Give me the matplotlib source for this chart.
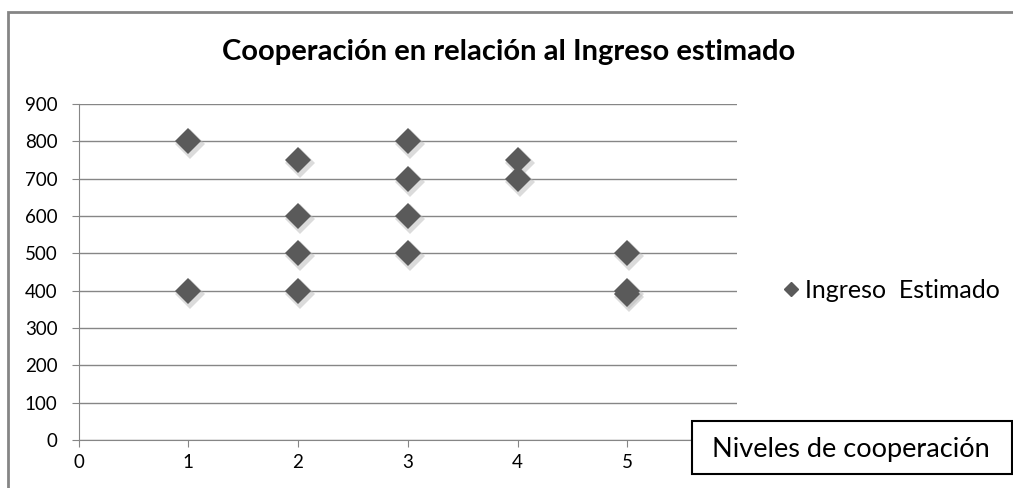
import matplotlib.pyplot as plt
from matplotlib.patches import Rectangle
from matplotlib.lines import Line2D
import matplotlib.transforms as mtransforms

plt.rcParams['font.family'] = ['Lato', 'DejaVu Sans']

# niveles de cooperación vs ingreso estimado
nivel = [1, 1, 2, 2, 2, 2, 3, 3, 3, 3, 4, 4, 5, 5, 5]
ingreso = [800, 400, 750, 600, 500, 400, 800, 700, 600, 500, 750, 700, 500, 400, 390]

y_ticks = list(range(0, 1000, 100))
x_ticks = list(range(0, 7))

fig = plt.figure(figsize=(10.13, 4.88), dpi=100)
W, H = 1013, 488

# outer chart frame (only left and top edges are visible)
fig.patches.append(Rectangle((8 / W, -0.1), 1.2, (488 - 12) / H + 0.1, transform=fig.transFigure,
                             fill=False, edgecolor='#858585', linewidth=2))

ax = fig.add_axes([78.5 / W, 1 - 440 / H, (737 - 78.5) / W, (440 - 104) / H])

# shadow under markers
shadow = mtransforms.offset_copy(ax.transData, fig=fig, x=2, y=-3, units='dots')
ax.plot(nivel, ingreso, 'D', color='#b8b8b8', alpha=0.5, markersize=15,
        markeredgewidth=0, transform=shadow, zorder=3)
ax.plot(nivel, ingreso, 'D', color='#5a5a5a', markersize=13.5, markeredgewidth=0, zorder=4)

ax.set_xlim(0, 6)
ax.set_ylim(0, 900)
ax.set_yticks(y_ticks)
ax.set_xticks(x_ticks)
ax.grid(axis='y', color='#868686', linewidth=1)
ax.set_axisbelow(True)
for s in ['top', 'right']:
    ax.spines[s].set_visible(False)
for s in ['left', 'bottom']:
    ax.spines[s].set_color('#868686')
ax.tick_params(direction='out', length=5, color='#868686', labelsize=13.5)
ax.tick_params(axis='x', pad=5)
ax.tick_params(axis='y', pad=10)

fig.text(509 / W, 1 - 52 / H, 'Cooperación en relación al Ingreso estimado',
         ha='center', va='center', fontsize=21, fontweight='bold')

handle = Line2D([], [], marker='D', linestyle='none', color='#5a5a5a', markersize=7)
fig.legend([handle], ['Ingreso  Estimado'], loc='center left',
           bbox_to_anchor=(766 / W, 1 - 290 / H), frameon=False, fontsize=18,
           handletextpad=0.05, handlelength=1, borderpad=0)

# axis title box, drawn over the last x label as in the original
fig.patches.append(Rectangle((692 / W, 1 - 474 / H), (1012 - 692) / W, (474 - 421) / H,
                             transform=fig.transFigure, facecolor='white', edgecolor='black',
                             linewidth=1.5, zorder=10))
fig.text(851 / W, 1 - 449 / H, 'Niveles de cooperación', ha='center', va='center',
         fontsize=19.5, zorder=11)

fig.savefig('out.png', dpi=100)
